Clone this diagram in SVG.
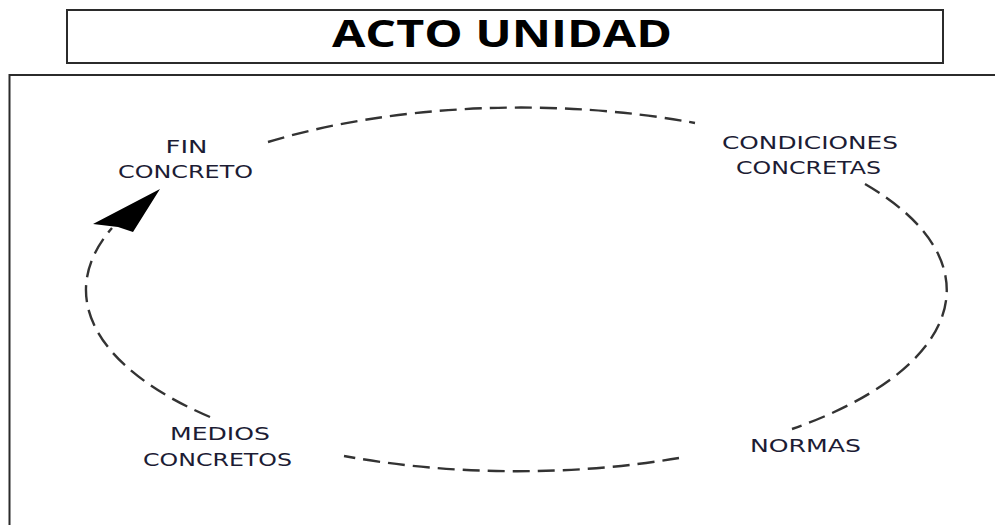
<svg xmlns="http://www.w3.org/2000/svg" width="995" height="525" viewBox="0 0 995 525">
<style>
.frame{fill:none;stroke:#2b2b2b;stroke-width:2}
.title{font-family:"Open Sans","Liberation Sans",sans-serif;font-weight:bold;font-size:38px;fill:#000}
.lbl{font-family:"DejaVu Sans","Liberation Sans",sans-serif;font-size:18.5px;fill:#1c1c34;text-anchor:middle}
.arc{fill:none;stroke:#333;stroke-width:2.4;stroke-dasharray:17 8}
</style>
<rect width="995" height="525" fill="#fff"/>
<rect class="frame" x="9.5" y="75" width="1000" height="480"/>
<g id="title">
<rect class="frame" x="67" y="10" width="876" height="53"/>
<text class="title" x="332" y="47" textLength="340" lengthAdjust="spacingAndGlyphs">ACTO UNIDAD</text>
</g>
<g id="connectors">
<path class="arc" d="M268,142 A431,181 0 0 1 695,123"/>
<path class="arc" d="M865,184 A431,181 0 0 1 792,429"/>
<path class="arc" d="M679,458 A431,181 0 0 1 344,456"/>
<path class="arc" d="M210,417 A431,181 0 0 1 112,228"/>
<polygon points="160,189 93,224 118,227 133,232" fill="#000"/>
</g>
<g id="node-fin">
<text class="lbl" x="186.5" y="152.5" textLength="42" lengthAdjust="spacingAndGlyphs">FIN</text>
<text class="lbl" x="185.5" y="178" textLength="135" lengthAdjust="spacingAndGlyphs">CONCRETO</text>
</g>
<g id="node-condiciones">
<text class="lbl" x="810" y="149" textLength="176" lengthAdjust="spacingAndGlyphs">CONDICIONES</text>
<text class="lbl" x="808.5" y="174" textLength="145" lengthAdjust="spacingAndGlyphs">CONCRETAS</text>
</g>
<g id="node-normas">
<text class="lbl" x="805.5" y="452" textLength="111" lengthAdjust="spacingAndGlyphs">NORMAS</text>
</g>
<g id="node-medios">
<text class="lbl" x="220" y="440" textLength="100" lengthAdjust="spacingAndGlyphs">MEDIOS</text>
<text class="lbl" x="217.5" y="465.5" textLength="149" lengthAdjust="spacingAndGlyphs">CONCRETOS</text>
</g>
</svg>
